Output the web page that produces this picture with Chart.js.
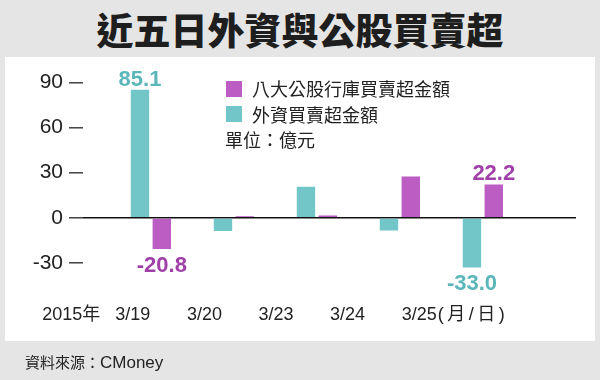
<!DOCTYPE html>
<html>
<head>
<meta charset="utf-8">
<script src="https://cdn.jsdelivr.net/npm/chart.js@4.4.1/dist/chart.umd.min.js"></script>
<style>
  html, body { margin: 0; padding: 0; }
  body { width: 600px; height: 380px; background: #e5e5e5; position: relative; overflow: hidden;
         font-family: "Noto Sans CJK TC", sans-serif; color: #222; }
  #title { position: absolute; left: 0; top: 4px; width: 600px; height: 50px; line-height: 50px;
           text-align: center; font-size: 37px; font-weight: 900; color: #1e1e1e; }
  #panel { position: absolute; left: 5px; top: 57px; width: 590px; height: 284px; background: #fff; }
  #chart { position: absolute; left: 0; top: 0; }
  #legend { position: absolute; left: 225px; top: 76px; font-size: 18px; line-height: 25.5px; }
  #legend .item { display: flex; align-items: center; height: 25.5px; }
  #legend .box { width: 16px; height: 16px; margin-left: 1px; margin-right: 10px; }
  #source { position: absolute; left: 25px; top: 350px; font-size: 15px; line-height: 24px; }
  #source span { font-family: "Liberation Sans Narrow", "Liberation Sans", sans-serif; font-size: 17px; }
</style>
</head>
<body>
<div id="title">近五日外資與公股買賣超</div>
<div id="panel"></div>
<canvas id="chart" width="600" height="380"></canvas>
<div id="legend"></div>
<div id="source">資料來源：<span>CMoney</span></div>
<script>
// ---------------- datos ----------------
const dates = ['3/19', '3/20', '3/23', '3/24', '3/25'];
const foreignNet = [85.1, -8.7, 20.6, -8.5, -33.0];     // 外資買賣超金額
const stateBankNet = [-20.8, 1.0, 1.5, 27.5, 22.2];     // 八大公股行庫買賣超金額
const yTicks = [-30, 0, 30, 60, 90];
const labeledDays = [0, 4];
const yearLabel = '2015年';
const dayUnitLabel = '(月/日)';
const unitText = '單位：億元';

const tickFont = 'Liberation Sans, "Noto Sans CJK TC", sans-serif';

// etiquetas de valor encima / debajo de las barras
const valueLabels = {
    id: 'valueLabels',
    afterDatasetsDraw(chart) {
        const ctx = chart.ctx;
        chart.data.datasets.forEach((ds, di) => {
            const meta = chart.getDatasetMeta(di);
            labeledDays.forEach(i => {
                const bar = meta.data[i];
                const v = ds.data[i].y;
                ctx.save();
                ctx.font = 'bold 22px "Liberation Sans"';
                ctx.fillStyle = ds.labelColor;
                ctx.textAlign = 'center';
                ctx.textBaseline = 'alphabetic';
                ctx.fillText(v.toFixed(1), bar.x, v >= 0 ? bar.y - 4 : bar.y + 23);
                ctx.restore();
            });
        });
    }
};

// "2015年" y "(月/日)" junto a las fechas
const axisNotes = {
    id: 'axisNotes',
    afterDraw(chart) {
        const s = chart.scales.x2;
        const items = s.getLabelItems();
        if (!items.length) return;
        const ctx = chart.ctx;
        ctx.save();
        ctx.font = '18px ' + tickFont;
        ctx.fillStyle = '#222';
        ctx.textBaseline = items[0].options.textBaseline;
        const first = items[0];
        const last = items[items.length - 1];
        const fy = first.options.translation[1] + (first.textOffset || 0);
        const ly = last.options.translation[1] + (last.textOffset || 0);
        const w0 = ctx.measureText(dates[0]).width;
        const wl = ctx.measureText(dates[dates.length - 1]).width;
        ctx.textAlign = 'right';
        ctx.fillText(yearLabel, first.options.translation[0] - w0 / 2 - 15, fy);
        ctx.textAlign = 'left';
        ctx.letterSpacing = '3.5px';
        ctx.fillText(dayUnitLabel, last.options.translation[0] + wl / 2 + 1, ly);
        ctx.restore();
    }
};

const chart = new Chart(document.getElementById('chart'), {
    type: 'bar',
    data: {
        datasets: [{
            label: '外資買賣超金額',
            data: foreignNet.map((v, i) => ({x: i, y: v})),
            backgroundColor: '#73c6c8',
            labelColor: '#5ab6b8'
        }, {
            label: '八大公股行庫買賣超金額',
            data: stateBankNet.map((v, i) => ({x: i, y: v})),
            backgroundColor: '#bb5dc3',
            labelColor: '#a03fa8'
        }]
    },
    options: {
        responsive: false,
        animation: false,
        categoryPercentage: 0.643,
        barPercentage: 0.843,
        layout: { padding: { top: 67.4, right: 24, left: 0, bottom: 28.4 } },
        plugins: { legend: { display: false }, tooltip: { enabled: false } },
        scales: {
            x: { type: 'linear', min: -0.818, max: 5.122, offset: false, display: false },
            x2: {
                type: 'linear', position: 'bottom', min: 0.3045, max: 7.19, offset: false,
                grid: { display: false, drawTicks: false, offset: false },
                border: { display: false },
                afterBuildTicks: s => { s.ticks = dates.map((d, i) => ({value: i + 1})); },
                ticks: {
                    callback: (v, i) => dates[i],
                    font: { family: tickFont, size: 18 },
                    color: '#222', padding: 26, maxRotation: 0, autoSkip: false
                }
            },
            y: {
                min: -40, max: 100,
                afterBuildTicks: s => { s.ticks = yTicks.map(v => ({value: v})); },
                afterFit: s => { s.width = 83; },
                grid: {
                    color: c => (c.tick && c.tick.value === 0) ? '#111' : 'rgba(0,0,0,0)',
                    lineWidth: 1.6, tickColor: '#333', tickLength: 14, tickWidth: 1.4
                },
                border: { display: false },
                ticks: { font: { family: tickFont, size: 21 }, color: '#222', padding: 6 }
            }
        }
    },
    plugins: [valueLabels, axisNotes]
});

// leyenda en HTML, en el orden del original
const legendEl = document.getElementById('legend');
chart.data.datasets.slice().reverse().forEach(ds => {
    const row = document.createElement('div');
    row.className = 'item';
    const box = document.createElement('span');
    box.className = 'box';
    box.style.background = ds.backgroundColor;
    row.appendChild(box);
    row.appendChild(document.createTextNode(ds.label));
    legendEl.appendChild(row);
});
const unitRow = document.createElement('div');
unitRow.className = 'item';
unitRow.innerText = unitText;
legendEl.appendChild(unitRow);
</script>
</body>
</html>
